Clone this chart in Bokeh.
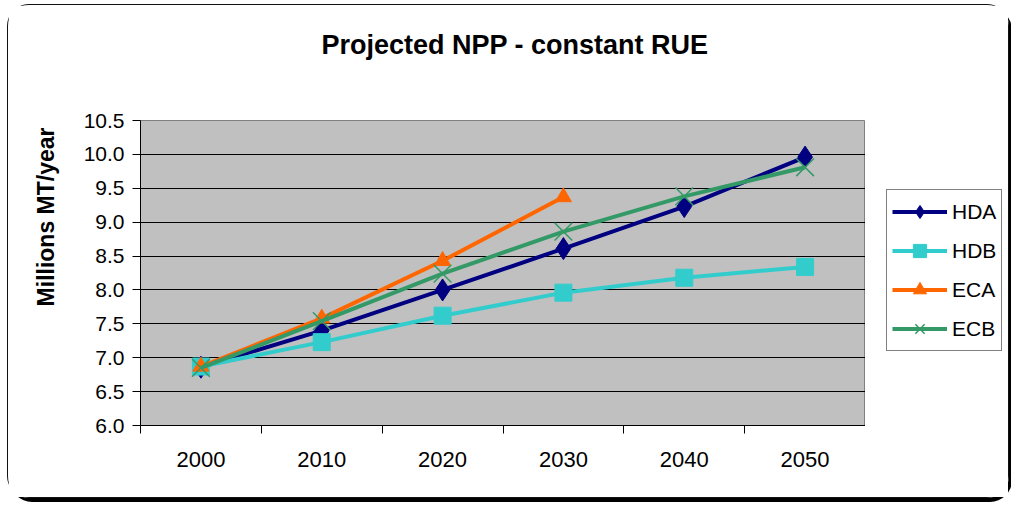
from bokeh.plotting import figure
from bokeh.layouts import row
from bokeh.models import FixedTicker, Legend, LegendItem, Title, NumeralTickFormatter
from bokeh.embed import file_html
from bokeh.resources import INLINE

title_text = "Projected NPP - constant RUE"
y_label = "Millions MT/year"
years = ["2000", "2010", "2020", "2030", "2040", "2050"]
hda = [6.86, 7.40, 8.00, 8.61, 9.23, 9.96]
hdb = [6.87, 7.23, 7.62, 7.96, 8.18, 8.34]
eca = [6.87, 7.58, 8.43, 9.37]
ecb = [6.85, 7.54, 8.24, 8.86, 9.38, 9.81]
y_ticks = [6.0, 6.5, 7.0, 7.5, 8.0, 8.5, 9.0, 9.5, 10.0, 10.5]

series = [
    ("HDA", hda, "#000080", "diamond", 22),
    ("HDB", hdb, "#33CCCC", "square", 17),
    ("ECA", eca, "#FF6600", "triangle", 16),
    ("ECB", ecb, "#339966", "x", 25),
]

FONT = "Liberation Sans"
centers = [i + 0.5 for i in range(len(years))]
bounds = [float(i) for i in range(len(years) + 1)]

p = figure(frame_width=725, frame_height=305, x_range=(0, len(years)), y_range=(6.0, 10.5),
           output_backend="svg", toolbar_location=None, title=None,
           min_border_left=132, min_border_right=0, min_border_top=115, min_border_bottom=72,
           background_fill_color="#C0C0C0", border_fill_color="white")
p.outline_line_color = "#808080"

# spacer between frame and title, then the title itself
spacer = Title(text=" ", text_font_size="10px", standoff=43)
p.add_layout(spacer, "above")
main_title = Title(text=title_text, text_font=FONT, text_font_size="27px",
                   text_font_style="bold", text_color="black", align="left",
                   offset=181, standoff=10)
p.add_layout(main_title, "above")

# x axis: labels at centres, ticks at category boundaries
p.xaxis.ticker = FixedTicker(ticks=centers, minor_ticks=bounds)
p.xaxis.major_label_overrides = {c: y for c, y in zip(centers, years)}
p.xaxis.major_tick_out = 0
p.xaxis.major_tick_in = 0
p.xaxis.minor_tick_out = 8
p.xaxis.minor_tick_in = 0
p.xaxis.minor_tick_line_color = "black"
p.xaxis.major_label_standoff = 18
p.xaxis.major_label_text_font_size = "22px"

p.yaxis.ticker = FixedTicker(ticks=y_ticks)
p.yaxis.formatter = NumeralTickFormatter(format="0.0")
p.yaxis.major_tick_out = 8
p.yaxis.major_tick_in = 0
p.yaxis.minor_tick_line_color = None
p.yaxis.major_label_standoff = 8
p.yaxis.major_label_text_font_size = "21px"

for ax in (p.xaxis, p.yaxis):
    ax.axis_line_color = "black"
    ax.major_tick_line_color = "black"
    ax.major_label_text_color = "black"
    ax.major_label_text_font = FONT

ytitle = Title(text=y_label, align="right", offset=7, standoff=44,
               text_font=FONT, text_font_size="23px", text_font_style="bold",
               text_color="black")
p.add_layout(ytitle, "left")

p.xgrid.visible = False
p.ygrid.ticker = FixedTicker(ticks=y_ticks)
p.ygrid.grid_line_color = "black"
p.ygrid.grid_line_width = 1


def draw(fig, xs, vals, color, marker, size):
    r1 = fig.line(xs, vals, line_color=color, line_width=4)
    if marker == "x":
        r2 = fig.scatter(xs, vals, marker=marker, size=size, line_color=color, line_width=1.5)
    else:
        r2 = fig.scatter(xs, vals, marker=marker, size=size, fill_color=color, line_color=color)
    return r1, r2


# legend panel: a narrow companion figure on the right whose view range
# lies away from the data, so only the legend shows
lf = figure(width=143, height=492, x_range=(100, 101), y_range=(100, 101),
            output_backend="svg", toolbar_location=None, title=None,
            min_border=0, x_axis_location=None, y_axis_location=None,
            border_fill_color="white", background_fill_color="white")
lf.outline_line_color = None
lf.grid.visible = False

items = []
for name, vals, color, marker, size in series:
    xs = centers[:len(vals)]
    draw(p, xs, vals, color, marker, size)
    r1, r2 = draw(lf, xs, vals, color, marker, size)
    items.append(LegendItem(label=name, renderers=[r1, r2]))

legend = Legend(items=items, location=(21, 74))
legend.label_text_font = FONT
legend.label_text_font_size = "21px"
legend.label_text_color = "black"
legend.glyph_width = 55
legend.glyph_height = 33
legend.spacing = 6
legend.padding = 5
legend.margin = 0
legend.label_standoff = 5
legend.border_line_color = "black"
legend.border_line_width = 1
legend.background_fill_color = "white"
legend.background_fill_alpha = 1.0
lf.add_layout(legend)

layout = row(p, lf, spacing=0)
layout.styles = {"border": "1.5px solid #111", "border-radius": "22px",
                 "box-shadow": "3px 4px 0 #000", "margin-left": "7px", "margin-top": "4px",
                 "width": "fit-content"}

open("out.html", "w").write(file_html(layout, INLINE))
